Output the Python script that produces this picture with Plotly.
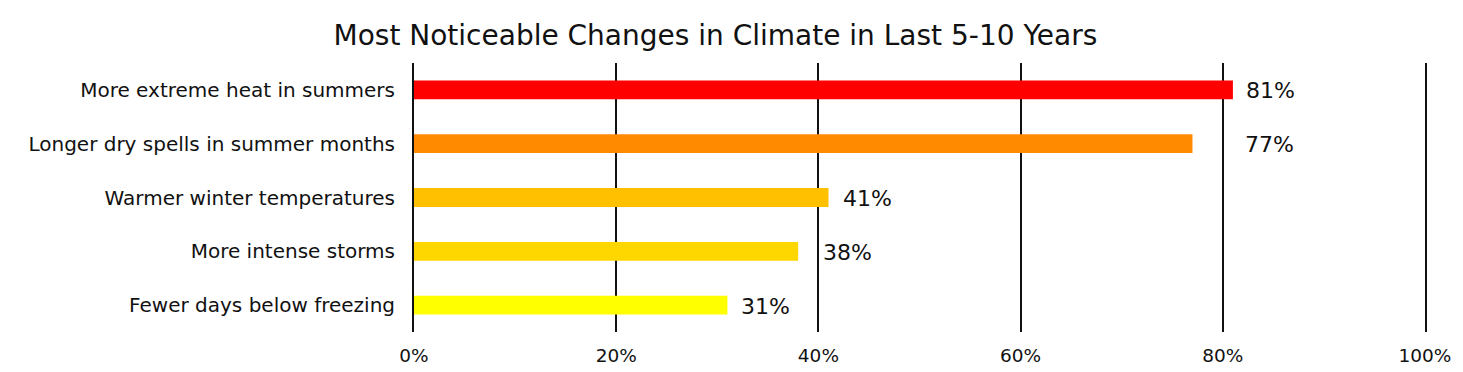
import plotly.graph_objects as go

categories = [
    "More extreme heat in summers",
    "Longer dry spells in summer months",
    "Warmer winter temperatures",
    "More intense storms",
    "Fewer days below freezing",
]
values = [81, 77, 41, 38, 31]
value_labels = ["81%", "77%", "41%", "38%", "31%"]
tick_values = [0, 20, 40, 60, 80, 100]
tick_labels = ["0%", "20%", "40%", "60%", "80%", "100%"]

bar_colors = ["#FF0000", "#FF8A00", "#FFC000", "#FFD700", "#FFFF00"]
label_shift = [11, 51, 12, 23, 12]

FONT = "DejaVu Sans"
INK = "#111111"

fig = go.Figure()
fig.add_trace(go.Bar(
    y=categories, x=values, orientation="h",
    marker=dict(color=bar_colors, line=dict(width=0)),
    width=0.35, hoverinfo="skip",
))

for c, v, t, s in zip(categories, values, value_labels, label_shift):
    fig.add_annotation(x=v, y=c, text=t, showarrow=False, xanchor="left",
                       yanchor="middle", xshift=s, yshift=-1,
                       font=dict(family=FONT, size=22, color=INK))

fig.update_layout(
    width=1463, height=372,
    margin=dict(l=414, r=38, t=63, b=40),
    paper_bgcolor="white", plot_bgcolor="white",
    showlegend=False,
    title=dict(text="Most Noticeable Changes in Climate in Last 5-10 Years",
               x=0.489, xanchor="center", y=1 - 35 / 372, yanchor="middle",
               yref="container",
               font=dict(family=FONT, size=28, color=INK)),
    font=dict(family=FONT, color=INK),
)
fig.update_xaxes(
    range=[0, 100], tickvals=tick_values, ticktext=tick_labels,
    showgrid=True, gridcolor=INK, gridwidth=2,
    zeroline=False, showline=False, ticks="",
    ticklabelstandoff=10, automargin=False,
    tickfont=dict(family=FONT, size=18.5, color=INK),
    fixedrange=True,
)
fig.update_yaxes(
    categoryorder="array", categoryarray=categories[::-1],
    showgrid=False, zeroline=False,
    showline=True, mirror=True, linecolor=INK, linewidth=2,
    ticks="",
    ticklabelstandoff=13, automargin=False,
    tickfont=dict(family=FONT, size=20, color=INK),
    fixedrange=True,
)

fig.write_html("out.html", config={"displayModeBar": False})
